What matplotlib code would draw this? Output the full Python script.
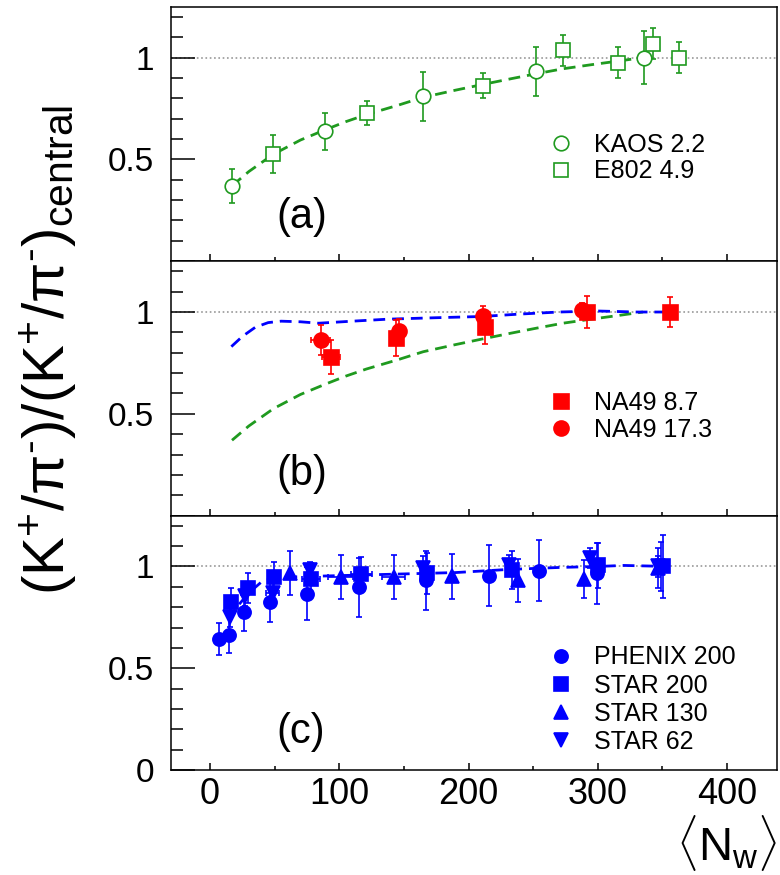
import matplotlib
matplotlib.use('Agg')
import matplotlib.pyplot as plt
from matplotlib.lines import Line2D
from matplotlib.ticker import MultipleLocator, FixedLocator, FuncFormatter

plt.rcParams['font.family'] = ['Liberation Sans', 'DejaVu Sans']
plt.rcParams['mathtext.fontset'] = 'custom'
plt.rcParams['mathtext.rm'] = 'Liberation Sans'
plt.rcParams['mathtext.it'] = 'Liberation Sans:italic'
plt.rcParams['mathtext.bf'] = 'Liberation Sans:bold'
plt.rcParams['lines.scale_dashes'] = False

# ---------------- data ----------------
# panel (a)
kaos_x = [17, 89, 165, 252, 336]
kaos_y = [0.37, 0.638, 0.809, 0.933, 1.0]
kaos_e = [0.085, 0.09, 0.12, 0.12, 0.13]
e802_x = [48.6, 121.5, 211, 273, 316, 343, 362.5]
e802_y = [0.528, 0.727, 0.862, 1.035, 0.975, 1.069, 1.0]
e802_e = [0.094, 0.058, 0.06, 0.075, 0.075, 0.078, 0.078]

# green model curve (panels a, b)
green_x = [17, 30, 49, 70, 89, 105, 121, 145, 165, 190, 211, 232, 252, 273, 295, 316, 335]
green_y = [0.37, 0.44, 0.525, 0.595, 0.645, 0.685, 0.72, 0.765, 0.805, 0.84, 0.868, 0.895, 0.92, 0.945, 0.965, 0.983, 1.0]

# panel (b)
na87_x = [93.6, 144, 212.5, 291.7, 356]
na87_y = [0.78, 0.871, 0.924, 1.0, 1.0]
na87_e = [0.083, 0.088, 0.082, 0.08, 0.072]
na87_xe = [7, 0, 0, 0, 0]
na17_x = [85.5, 146.5, 211.6, 288]
na17_y = [0.863, 0.909, 0.982, 1.012]
na17_e = [0.075, 0.055, 0.05, 0.033]
na17_xe = [7, 0, 0, 0]

blue_b_x = [16.5, 25, 35, 45, 55, 70, 84, 110, 138, 175, 210, 240, 270, 300, 330, 355]
blue_b_y = [0.83, 0.88, 0.925, 0.948, 0.955, 0.952, 0.945, 0.955, 0.965, 0.972, 0.978, 0.99, 1.0, 1.005, 1.0, 1.0]

# panel (c)
phenix_x = [6.9, 14.4, 26.4, 46.5, 75, 115, 166.9, 215.5, 254.2, 299.2, 348.7]
phenix_y = [0.645, 0.662, 0.774, 0.823, 0.865, 0.898, 0.931, 0.955, 0.98, 0.967, 1.0]
phenix_e = [0.078, 0.088, 0.09, 0.095, 0.13, 0.145, 0.145, 0.15, 0.15, 0.15, 0.12]

star200_x = [16.5, 29.4, 49.8, 78, 117, 168, 234, 300, 350.5]
star200_y = [0.823, 0.894, 0.947, 0.939, 0.964, 0.967, 0.983, 1.005, 1.0]
star200_e = [0.073, 0.074, 0.076, 0.08, 0.08, 0.1, 0.095, 0.11, 0.155]
star200_xe = [0, 0, 0, 7, 8, 0, 0, 0, 0]

star130_x = [61.5, 101, 142, 187.6, 238.6, 289, 346.6]
star130_y = [0.969, 0.947, 0.947, 0.952, 0.931, 0.939, 0.993]
star130_e = [0.107, 0.107, 0.108, 0.11, 0.105, 0.094, 0.1]
star130_xe = [0, 10, 9, 0, 0, 0, 0]

star62_x = [15.6, 27, 48.6, 77.4, 165, 231, 294, 347]
star62_y = [0.752, 0.855, 0.868, 0.983, 0.993, 1.005, 1.04, 1.0]
star62_e = [0.05, 0.05, 0.05, 0.04, 0.06, 0.05, 0.05, 0.05]
star62_xe = [0, 0, 5, 0, 0, 0, 0, 0]

blue_c_x = [14, 22, 30, 40, 50, 70, 100, 130, 160, 190, 230, 270, 300, 320, 355]
blue_c_y = [0.74, 0.81, 0.87, 0.925, 0.945, 0.95, 0.955, 0.96, 0.965, 0.97, 0.985, 0.995, 1.0, 1.005, 1.0]

panel_labels = ['(a)', '(b)', '(c)']
xticks_major = [0, 100, 200, 300, 400]

# ---------------- style ----------------
GREEN = '#1f9a1f'
BLUE = '#0000ff'
RED = '#ff0000'

fig = plt.figure(figsize=(7.8, 8.75), dpi=100)
L = 171 / 780
W = (777 - 171) / 780
top_px, bot_px = 6.7, 770
h_px = (bot_px - top_px) / 3
axes = []
for i in range(3):
    y0 = 1 - (top_px + (i + 1) * h_px) / 875
    ax = fig.add_axes([L, y0, W, h_px / 875])
    axes.append(ax)


def eb(ax, x, y, ye, xe=None, marker='o', ms=10, color=BLUE, mfc=None, label=None):
    ax.errorbar(x, y, yerr=ye, xerr=xe, fmt='none', ecolor=color, elinewidth=1.2,
                capsize=2.4, capthick=1.2, zorder=3)
    ax.plot(x, y, ls='none', marker=marker, ms=ms, mfc=(mfc if mfc else color),
            mec=color, mew=1.2, zorder=4)
    return Line2D([], [], ls='none', marker=marker, ms=ms, mfc=(mfc if mfc else color),
                  mec=color, mew=1.2, label=label)


def legend(ax, handles, yc, spacing=0.08):
    ax.legend(handles=handles, loc='center left', bbox_to_anchor=(0.623, yc),
              frameon=False, fontsize=18, handlelength=1.0, handletextpad=0.8,
              labelspacing=spacing, borderpad=0, borderaxespad=0)


def curve(ax, x, y, color):
    ax.plot(x, y, color=color, lw=2.0, dashes=(8.5, 5), zorder=2)


for i, ax in enumerate(axes):
    ax.set_xlim(-30.2, 438.7)
    ax.set_ylim(0, 1.25)
    ax.axhline(1.0, color='#a0a0a0', lw=1.3, ls=(0, (1.2, 1.9)), zorder=1)
    ax.xaxis.set_major_locator(FixedLocator(xticks_major))
    ax.xaxis.set_minor_locator(MultipleLocator(50))
    ax.yaxis.set_major_locator(FixedLocator([0, 0.5, 1.0]))
    ax.yaxis.set_minor_locator(MultipleLocator(0.1))
    show0 = (i == 2)
    ax.yaxis.set_major_formatter(FuncFormatter(
        lambda v, p, s=show0: ('1' if abs(v - 1) < 1e-6 else ('0.5' if abs(v - 0.5) < 1e-6 else ('0' if s else '')))))
    ax.tick_params(axis='y', which='major', direction='in', length=17, width=1.1,
                   labelsize=24, pad=12)
    ax.tick_params(axis='y', which='minor', direction='in', length=8.6, width=1.1)
    ax.tick_params(axis='x', which='major', direction='in', length=5, width=1.1,
                   labelsize=26, pad=5, labelbottom=(i == 2))
    ax.tick_params(axis='x', which='minor', direction='in', length=2.8, width=1.1)
    for sp in ax.spines.values():
        sp.set_linewidth(1.1)
    ax.text(51, [0.215, 0.203, 0.188][i], panel_labels[i], fontsize=30,
            ha='left', va='center')

# panel a
ax = axes[0]
curve(ax, green_x, green_y, GREEN)
h1 = eb(ax, kaos_x, kaos_y, kaos_e, marker='o', ms=10.5, color=GREEN, mfc='white', label='KAOS 2.2')
h2 = eb(ax, e802_x, e802_y, e802_e, marker='s', ms=10.5, color=GREEN, mfc='white', label='E802 4.9')
legend(ax, [h1, h2], 0.4044, 0.1)

# panel b
ax = axes[1]
curve(ax, green_x, green_y, GREEN)
curve(ax, blue_b_x, blue_b_y, BLUE)
h1 = eb(ax, na87_x, na87_y, na87_e, xe=na87_xe, marker='s', ms=10.8, color=RED, label='NA49 8.7')
h2 = eb(ax, na17_x, na17_y, na17_e, xe=na17_xe, marker='o', ms=10.8, color=RED, label='NA49 17.3')
legend(ax, [h1, h2], 0.39, 0.1)

# panel c
ax = axes[2]
curve(ax, blue_c_x, blue_c_y, BLUE)
h1 = eb(ax, phenix_x, phenix_y, phenix_e, marker='o', ms=9.5, color=BLUE, label='PHENIX 200')
h2 = eb(ax, star200_x, star200_y, star200_e, xe=star200_xe, marker='s', ms=9.5, color=BLUE, label='STAR 200')
h3 = eb(ax, star130_x, star130_y, star130_e, xe=star130_xe, marker='^', ms=10, color=BLUE, label='STAR 130')
h4 = eb(ax, star62_x, star62_y, star62_e, xe=star62_xe, marker='v', ms=10, color=BLUE, label='STAR 62')
legend(ax, [h1, h2, h3, h4], 0.276, 0.17)

fig.text(48 / 780, 1 - 350 / 875,
         r'(K$^{+}$/π$^{\mathrm{‐}}$)/(K$^{+}$/π$^{\mathrm{‐}}$)$_{\mathrm{central}}$',
         rotation=90, ha='center', va='center', fontsize=42)
fig.text(0.997, 1 - 843 / 875, r'$\langle\mathrm{N}_{\mathrm{w}}\rangle$',
         ha='right', va='center', fontsize=34)

fig.savefig('out.png', dpi=100)
